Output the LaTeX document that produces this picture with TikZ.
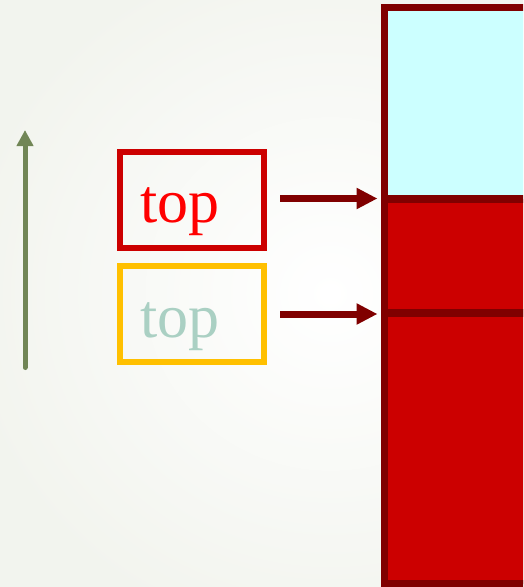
\documentclass[tikz,border=0pt]{standalone}
\usepackage{fontspec}
\setmainfont{Liberation Serif}
\usetikzlibrary{arrows.meta}

\definecolor{bgouter}{RGB}{242,244,238}
\definecolor{boxred}{RGB}{204,0,0}
\definecolor{textred}{RGB}{255,0,0}
\definecolor{boxgold}{RGB}{255,192,0}
\definecolor{textteal}{RGB}{170,208,195}
\definecolor{maroon}{RGB}{128,0,0}
\definecolor{cellcyan}{RGB}{204,255,255}
\definecolor{olive}{RGB}{113,134,86}

\tikzset{
  labelbox/.style={draw, rectangle, line width=6pt, minimum width=144pt,
    minimum height=96pt, inner sep=0pt},
  labeltext/.style={anchor=base west, inner sep=0pt,
    font=\fontsize{62}{62}\selectfont},
  pointer/.style={draw=maroon, line width=7pt,
    -{Triangle[length=21pt,width=20pt]}},
  cellborder/.style={draw=maroon, line width=7pt},
  celldivider/.style={draw=maroon, line width=8pt},
}

\begin{document}
\begin{tikzpicture}[x=1pt, y=-1pt]
  \useasboundingbox (0,0) rectangle (523,587);
  \clip (0,0) rectangle (523,587);

  % soft page background
  \shade[inner color=white, outer color=bgouter] (-40,-60) rectangle (700,647);

  % stacked column on the right
  \fill[cellcyan] (384,7.5) rectangle (560,198.5);
  \fill[boxred] (384,198.5) rectangle (560,583.5);
  \node[coordinate] (div1w) at (384,198.5) {};
  \node[coordinate] (div1e) at (560,198.5) {};
  \node[coordinate] (div2w) at (384,312.5) {};
  \node[coordinate] (div2e) at (560,312.5) {};
  \draw[celldivider] (div1w) -- (div1e);
  \draw[celldivider] (div2w) -- (div2e);
  \draw[cellborder] (384,7.5) rectangle (560,583.5);

  % upward direction arrow
  \coordinate (growbase) at (25,367.5);
  \coordinate (growtip) at (25,130);
  \draw[olive, line width=5pt, line cap=round,
        -{Triangle[length=16pt,width=16pt]}] (growbase) -- (growtip);

  % labelled boxes
  \node[labelbox, draw=boxred] (redbox) at (192,199.5) {};
  \node[labelbox, draw=boxgold] (goldbox) at (192,314.25) {};
  \node[labeltext, text=textred] (redtext) at (140,222) {top};
  \node[labeltext, text=textteal] (tealtext) at (140,337) {top};

  % pointers into the column
  \coordinate (hit1) at (377.5,198.5);
  \coordinate (hit2) at (377.5,314);
  \draw[pointer, shorten <=13pt] (redbox.east |- hit1) -- (hit1);
  \draw[pointer, shorten <=13pt] (goldbox.east |- hit2) -- (hit2);
\end{tikzpicture}
\end{document}
